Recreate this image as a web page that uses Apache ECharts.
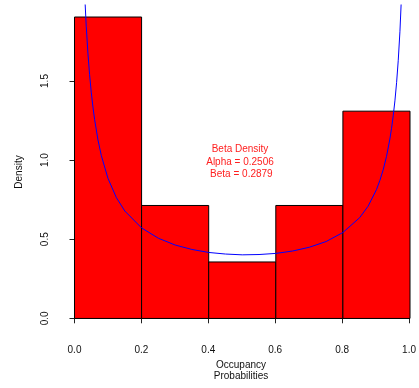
<!DOCTYPE html>
<html>
<head>
<meta charset="utf-8">
<script src="https://cdn.jsdelivr.net/npm/echarts@6/dist/echarts.min.js"></script>
<style>
html,body{margin:0;padding:0;background:#fff;}
#chart{width:419px;height:388px;}
</style>
</head>
<body>
<div id="chart"></div>
<script>
// Histogram bins (density scale)
const binStarts = [0.0, 0.2, 0.4, 0.6, 0.8];
const binEnds   = [0.2, 0.4, 0.6, 0.8, 1.0];
const densities = [1.905, 0.714, 0.357, 0.714, 1.310];

// Beta density curve
const curveX = [0.01, 0.02, 0.03, 0.035, 0.04, 0.045, 0.05, 0.055, 0.06, 0.07, 0.08, 0.10, 0.125, 0.15, 0.20, 0.25, 0.30, 0.35, 0.40, 0.45, 0.50, 0.55, 0.60, 0.65, 0.70, 0.75, 0.80, 0.85, 0.875, 0.90, 0.91, 0.92, 0.93, 0.94, 0.945, 0.95, 0.955, 0.96, 0.965, 0.97, 0.975, 0.98, 0.99];
const curveY = [4.638, 2.779, 2.066, 1.847, 1.677, 1.541, 1.430, 1.336, 1.257, 1.128, 1.029, 0.884, 0.763, 0.679, 0.572, 0.507, 0.464, 0.436, 0.417, 0.407, 0.402, 0.404, 0.411, 0.426, 0.450, 0.486, 0.543, 0.637, 0.709, 0.814, 0.871, 0.939, 1.024, 1.134, 1.202, 1.281, 1.375, 1.490, 1.632, 1.815, 2.058, 2.403, 3.907];

// Axis ticks
const xTickValues = [0, 0.2, 0.4, 0.6, 0.8, 1.0];
const xTickLabels = ['0.0', '0.2', '0.4', '0.6', '0.8', '1.0'];
const yTickValues = [0, 0.5, 1.0, 1.5];
const yTickLabels = ['0.0', '0.5', '1.0', '1.5'];

const annotationLines = ['Beta Density', 'Alpha = 0.2506', ' Beta = 0.2879'];

const FONT = '"Liberation Sans", Arial, Helvetica, sans-serif';

const barData = binStarts.map((s, i) => [s, binEnds[i], densities[i]]);
const curveData = curveX.map((x, i) => [x, curveY[i]]);

function labelFor(values, labels) {
  return function (v) {
    for (let i = 0; i < values.length; i++) {
      if (Math.abs(values[i] - v) < 1e-9) return labels[i];
    }
    return '';
  };
}

const chart = echarts.init(document.getElementById('chart'), null, {renderer: 'canvas'});
chart.setOption({
  animation: false,
  backgroundColor: '#ffffff',
  grid: [
    {left: 61, top: 5, width: 358, height: 325.5, containLabel: false},
    {left: 74.5, top: 81, width: 335.5, height: 237.3, containLabel: false}
  ],
  xAxis: [
    {gridIndex: 0, type: 'value', min: -0.0402, max: 1.0268, show: false},
    {gridIndex: 1, type: 'value', min: 0, max: 1, interval: 0.2, position: 'bottom', offset: 12.5,
     splitLine: {show: false},
     axisLine: {show: true, lineStyle: {color: '#555', width: 1}},
     axisTick: {show: true, inside: false, length: 5, lineStyle: {color: '#222', width: 1}},
     axisLabel: {show: true, margin: 14, color: '#111', fontSize: 10, fontFamily: FONT,
                 formatter: labelFor(xTickValues, xTickLabels)}}
  ],
  yAxis: [
    {gridIndex: 0, type: 'value', min: -0.0762, max: 1.981, show: false},
    {gridIndex: 1, type: 'value', min: 0, max: 1.5, interval: 0.5, position: 'left', offset: 14,
     splitLine: {show: false},
     axisLine: {show: true, lineStyle: {color: '#555', width: 1}},
     axisTick: {show: true, inside: false, length: 5, lineStyle: {color: '#222', width: 1}},
     axisLabel: {show: true, margin: 10, rotate: 90, color: '#111', fontSize: 10, fontFamily: FONT,
                 formatter: labelFor(yTickValues, yTickLabels)}}
  ],
  series: [
    {
      type: 'custom',
      xAxisIndex: 0, yAxisIndex: 0,
      data: barData,
      renderItem: function (params, api) {
        const p0 = api.coord([api.value(0), api.value(2)]);
        const p1 = api.coord([api.value(1), 0]);
        return {
          type: 'rect',
          shape: {x: p0[0], y: p0[1], width: p1[0] - p0[0], height: p1[1] - p0[1]},
          style: {fill: '#ff0000', stroke: '#000000', lineWidth: 1}
        };
      },
      silent: true, z: 2
    },
    {
      type: 'line',
      xAxisIndex: 0, yAxisIndex: 0,
      data: curveData,
      showSymbol: false,
      symbol: 'none',
      clip: true,
      lineStyle: {color: '#0000ff', width: 1},
      silent: true, z: 3
    }
  ],
  graphic: [
    {type: 'text', x: 241, y: 365, style: {text: 'Occupancy', fill: '#111', font: '10px ' + FONT, textAlign: 'center', textVerticalAlign: 'middle'}},
    {type: 'text', x: 241, y: 376, style: {text: 'Probabilities', fill: '#111', font: '10px ' + FONT, textAlign: 'center', textVerticalAlign: 'middle'}},
    {type: 'text', x: 19, y: 172, rotation: Math.PI / 2, style: {text: 'Density', fill: '#111', font: '10px ' + FONT, textAlign: 'center', textVerticalAlign: 'middle'}},
    {type: 'text', x: 240, y: 149, style: {text: annotationLines[0], fill: '#ff2020', font: '10px ' + FONT, textAlign: 'center', textVerticalAlign: 'middle'}},
    {type: 'text', x: 240, y: 162, style: {text: annotationLines[1], fill: '#ff2020', font: '10px ' + FONT, textAlign: 'center', textVerticalAlign: 'middle'}},
    {type: 'text', x: 240, y: 174.5, style: {text: annotationLines[2], fill: '#ff2020', font: '10px ' + FONT, textAlign: 'center', textVerticalAlign: 'middle'}}
  ]
});
</script>
</body>
</html>
